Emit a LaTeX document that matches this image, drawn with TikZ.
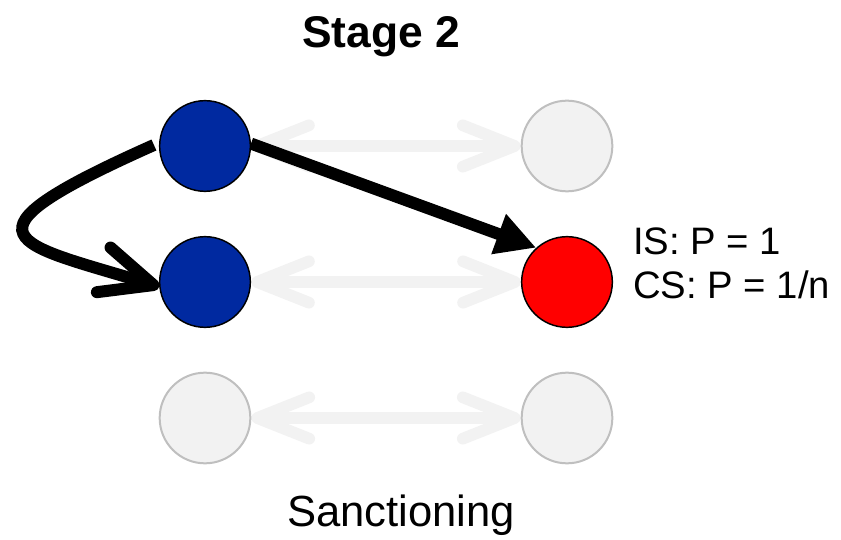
\documentclass[tikz,border=0pt]{standalone}
\usepackage{fontspec}
\setmainfont{Liberation Sans}
\usetikzlibrary{arrows.meta,backgrounds,calc}
\definecolor{nodeblue}{RGB}{0,41,160}
\definecolor{palegrey}{RGB}{242,242,242}
\definecolor{rimgrey}{RGB}{191,191,191}

\begin{document}
\begin{tikzpicture}[x=0.75pt,y=0.75pt,
  disc/.style={circle, minimum size=68pt, inner sep=0pt, line width=1.1pt},
  bluedisc/.style={disc, draw=black, fill=nodeblue},
  reddisc/.style={disc, draw=black, fill=red},
  greydisc/.style={disc, draw=rimgrey, fill=palegrey, line width=1.5pt},
  pairlink/.style={palegrey, line width=8.8pt,
    {Straight Barb[length=39pt,width=31pt,round]}-{Straight Barb[length=39pt,width=31pt,round]}},
  jump/.style={black, line width=9pt},
  txt/.style={inner sep=0pt, anchor=base}
]
\useasboundingbox (0,0) rectangle (841,539);

% the six players
\node[bluedisc] (tl) at (205,393) {};
\node[greydisc] (tr) at (567,393) {};
\node[bluedisc] (ml) at (205,257) {};
\node[reddisc]  (mr) at (567,257) {};
\node[greydisc] (bl) at (205,121) {};
\node[greydisc] (br) at (567,121) {};

\begin{scope}[on background layer]
  % faint two-way links between the columns
  \draw[pairlink] (tl) -- (tr);
  \draw[pairlink] (ml) -- (mr);
  \draw[pairlink] (bl) -- (br);
  % moves of stage 2
  \coordinate (loopstart) at ($(tl.west)+(-5,1)$);
  \draw[jump, -{Straight Barb[length=39pt,width=35pt,round]}]
    (loopstart) .. controls +(204:228) and +(163:150) .. (ml.186);
  \draw[jump, -{Triangle[length=30pt,width=30pt]}] (tl.3) -- (mr.132);
\end{scope}

% texts
\node[txt, font=\bfseries\fontsize{33.3pt}{40pt}\selectfont] (title) at (381,491) {Stage 2};
\node[txt, anchor=base west, font=\fontsize{28.7pt}{34pt}\selectfont] (is) at (633,284) {IS: P = 1};
\node[txt, anchor=base west, font=\fontsize{28.7pt}{34pt}\selectfont] (cs) at (633,240) {CS: P = 1/n};
\node[txt, font=\fontsize{32.7pt}{39pt}\selectfont] (phase) at (401,13) {Sanctioning};
\end{tikzpicture}
\end{document}
